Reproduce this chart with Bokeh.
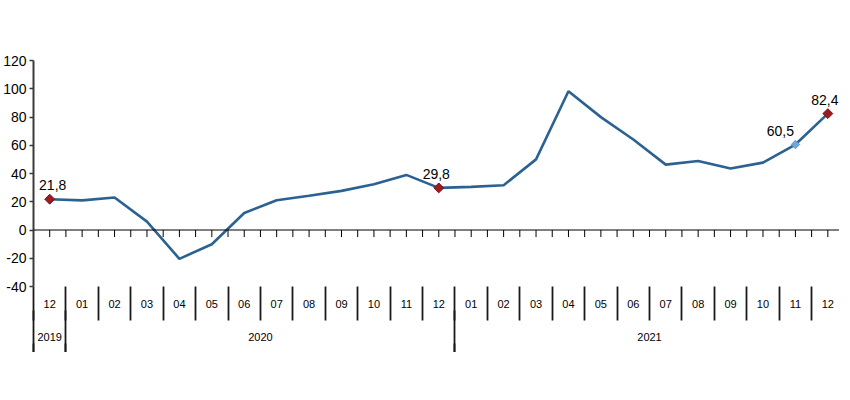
import numpy as np
from bokeh.plotting import figure
from bokeh.models import Range1d, LinearAxis, FixedTicker, Span, ColumnDataSource
from bokeh.embed import file_html
from bokeh.resources import INLINE
from bokeh.core.properties import value

# ---- data ----
months = ["12", "01", "02", "03", "04", "05", "06", "07", "08", "09", "10", "11", "12",
          "01", "02", "03", "04", "05", "06", "07", "08", "09", "10", "11", "12"]
month_years = ["2019"] + ["2020"] * 12 + ["2021"] * 12
values = [21.8, 21.0, 23.0, 5.9, -20.4, -10.1, 12.0, 21.1, 24.2, 27.7, 32.4, 39.0, 29.8,
          30.5, 31.7, 50.0, 98.2, 79.9, 64.1, 46.3, 48.9, 43.5, 47.7, 60.5, 82.4]
y_ticks = [-40, -20, 0, 20, 40, 60, 80, 100, 120]
y_tick_labels = ["-40", "-20", "0", "20", "40", "60", "80", "100", "120"]
label_idx = [0, 12, 23, 24]
label_texts = ["21,8", "29,8", "60,5", "82,4"]

FONT = "Liberation Sans"
n = len(months)
xs = list(range(n))

# year groups
years = []
for y in month_years:
    if y not in years:
        years.append(y)
year_centers = []
year_bounds = [-0.5]
for y in years:
    ii = [i for i, yy in enumerate(month_years) if yy == y]
    year_centers.append((ii[0] + ii[-1]) / 2)
    if ii[-1] < n - 1:
        year_bounds.append(ii[-1] + 0.5)
month_bounds = [i - 0.5 for i in range(n)]

p = figure(frame_width=806, frame_height=226,
           x_range=Range1d(-0.5, n - 0.64), y_range=Range1d(-40, 120),
           x_axis_type=None, output_backend="svg", toolbar_location=None,
           min_border_left=0, min_border_right=0, min_border_top=60, min_border_bottom=14)
p.outline_line_color = None
p.ygrid.visible = False
p.background_fill_color = "white"

ya = p.yaxis[0]
ya.ticker = FixedTicker(ticks=y_ticks)
ya.major_label_overrides = {t: l for t, l in zip(y_ticks, y_tick_labels)}
ya.axis_line_color = "#3a3a3a"
ya.axis_line_width = 2
ya.major_tick_line_color = "#3a3a3a"
ya.major_tick_line_width = 1.5
ya.major_tick_out = 4
ya.major_tick_in = 0
ya.minor_tick_out = 0
ya.minor_tick_in = 0
ya.major_label_standoff = 3
ya.major_label_text_font = FONT
ya.major_label_text_font_size = "14px"
ya.major_label_text_color = "black"

SEP_COLOR = "#1a1a1a"

# month axis
ma = LinearAxis(ticker=FixedTicker(ticks=xs, minor_ticks=month_bounds),
                major_label_overrides={i: m for i, m in enumerate(months)})
ma.axis_line_color = None
ma.major_tick_out = 0
ma.major_tick_in = 0
ma.minor_tick_in = 0
ma.minor_tick_out = 34
ma.minor_tick_line_color = SEP_COLOR
ma.minor_tick_line_width = 1.8
ma.major_label_standoff = -21
ma.major_label_text_font = FONT
ma.major_label_text_font_size = "11px"
ma.major_label_text_color = "black"
p.add_layout(ma, "below")

# year axis
yax = LinearAxis(ticker=FixedTicker(ticks=year_centers, minor_ticks=year_bounds),
                 major_label_overrides={c: y for c, y in zip(year_centers, years)})
yax.axis_line_color = None
yax.major_tick_out = 0
yax.major_tick_in = 0
yax.minor_tick_in = 0
yax.minor_tick_out = 49
yax.minor_tick_line_color = SEP_COLOR
yax.minor_tick_line_width = 1.8
yax.major_label_standoff = -27
yax.major_label_text_font = FONT
yax.major_label_text_font_size = "11px"
yax.major_label_text_color = "black"
p.add_layout(yax, "below")

# continuation of the year separators below the year labels
ext = LinearAxis(ticker=FixedTicker(ticks=[], minor_ticks=year_bounds))
ext.axis_line_color = None
ext.major_tick_out = 0
ext.major_tick_in = 0
ext.minor_tick_in = 0
ext.minor_tick_out = 9
ext.minor_tick_line_color = SEP_COLOR
ext.minor_tick_line_width = 1.8
ext.major_label_text_font_size = "0px"
p.add_layout(ext, "below")

# zero line with small ticks
p.add_layout(Span(location=0, dimension="width", line_color="black", line_width=1))
tick_x = [i * 0.5 for i in range(2 * n - 1)]
tick_len = 5.0
p.segment(x0=tick_x, y0=[0] * len(tick_x), x1=tick_x, y1=[-tick_len] * len(tick_x),
          line_color="black", line_width=1)

# series
p.line(xs, values, line_color="#2B6291", line_width=2.6)

red_idx = [i for i in label_idx if i != 23]
p.scatter([xs[i] for i in red_idx], [values[i] for i in red_idx], marker="square",
          angle=np.pi / 4, size=7, fill_color="#9B1B1F", line_color="#7a1216")
p.scatter([xs[23]], [values[23]], marker="square", angle=np.pi / 4, size=6,
          fill_color="#6FA8DC", line_color="#5B9BD5")

x_off = {0: 3, 12: -2.5, 23: -15, 24: -3}
src = ColumnDataSource(dict(
    x=[xs[i] for i in label_idx],
    y=[values[i] for i in label_idx],
    t=label_texts,
    xo=[x_off[i] for i in label_idx],
))
p.text(x="x", y="y", text="t", source=src, x_offset="xo", y_offset=-14,
       text_align="center", text_baseline="alphabetic",
       text_font=value(FONT), text_font_size="14px", text_color="black")

open("out.html", "w").write(file_html(p, INLINE))
